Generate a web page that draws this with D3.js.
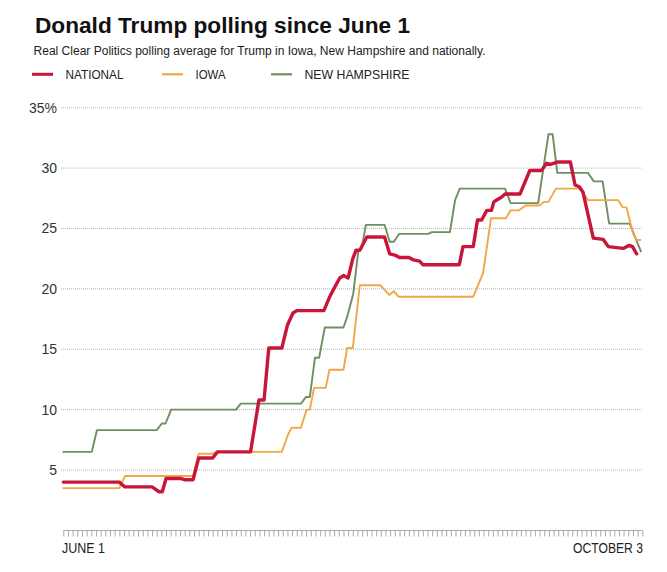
<!DOCTYPE html>
<html>
<head>
<meta charset="utf-8">
<script src="https://cdn.jsdelivr.net/npm/d3@7"></script>
<style>
  body { margin: 0; background: #fff; }
  svg { display: block; }
  text { font-family: "Liberation Sans", Arial, sans-serif; fill: #222; }
</style>
</head>
<body>
<svg width="667" height="572"></svg>
<script>
// day offsets from June 1, with the polling average on that day
const national = [[0,4.0],[12,4.0],[13.2,3.6],[19,3.6],[20.5,3.2],[21.2,3.2],[22,4.3],[25,4.3],[26,4.2],[27.8,4.2],[29,6.0],[32,6.0],[33,6.5],[40.1,6.5],[41.9,10.8],[43,10.8],[44,15.1],[46.8,15.1],[48,17.0],[49.2,18.0],[50,18.2],[55.8,18.2],[57,19.3],[57.8,19.9],[59.2,20.9],[60,21.1],[61,20.9],[62,22.5],[62.7,23.2],[63.5,23.2],[65,24.3],[68.8,24.3],[69.9,22.9],[71,22.8],[72,22.6],[74,22.6],[75,22.4],[76.3,22.3],[77,22.0],[84.8,22.0],[85.6,23.5],[87.8,23.5],[88.7,25.7],[89.6,25.7],[90.7,26.5],[91.7,26.5],[92.2,27.2],[93,27.4],[93.9,27.6],[94.6,27.85],[97.8,27.85],[99.9,29.8],[102.4,29.8],[103.5,30.4],[104.3,30.3],[105.8,30.5],[108.6,30.5],[109.6,28.6],[110.5,28.45],[111.3,28.0],[113.5,24.2],[115.6,24.1],[116.7,23.5],[119.9,23.35],[121.2,23.6],[121.9,23.5],[122.8,22.9]]
const iowa = [[0,3.5],[12,3.5],[13.2,4.5],[27.8,4.5],[29,6.35],[32,6.35],[33,6.5],[46.8,6.5],[48.2,8.0],[48.9,8.5],[50.9,8.5],[52.1,10.0],[52.8,10.0],[53.7,11.8],[56.2,11.8],[57,13.3],[60,13.3],[60.8,15.1],[62,15.1],[63.5,20.3],[67.9,20.3],[69.3,19.7],[69.8,19.5],[70.8,19.8],[71.8,19.35],[87.8,19.35],[89.9,21.3],[91.6,25.85],[94.8,25.85],[95.8,26.5],[97.6,26.5],[99,26.9],[102,26.9],[102.9,27.2],[103.9,27.2],[105.5,28.3],[110.6,28.3],[112.4,27.35],[118.8,27.35],[119.8,26.75],[120.6,26.75],[122,24.6],[122.8,24.05],[123.6,24.05]]
const newHampshire = [[0,6.5],[6.1,6.5],[7.2,8.3],[20,8.3],[21.1,8.85],[21.9,8.85],[23.1,10.0],[37,10.0],[38,10.5],[50.9,10.5],[52,11.05],[52.8,11.05],[53.9,14.3],[54.8,14.3],[56,16.8],[60,16.8],[60.8,17.7],[62.1,19.6],[63.2,23.2],[63.9,23.35],[64.8,25.3],[68.8,25.3],[69.9,23.9],[70.8,23.9],[71.9,24.55],[78.2,24.55],[78.9,24.7],[82.8,24.7],[83.9,27.35],[84.9,28.3],[94.6,28.3],[95.8,27.1],[101.7,27.1],[103.9,32.8],[104.8,32.8],[105.8,29.6],[112.4,29.6],[113.6,28.9],[115.5,28.9],[116.9,25.4],[121.3,25.4],[123.7,23.1]]

const yTicks = [5, 10, 15, 20, 25, 30, 35]
const seriesNames = ['NATIONAL', 'IOWA', 'NEW HAMPSHIRE']
const xLabels = ['JUNE 1', 'OCTOBER 3']

const startDate = new Date(Date.UTC(2015, 5, 1))
const endDate = new Date(Date.UTC(2015, 9, 3))
const toDate = day => new Date(startDate.getTime() + day * 864e5)

const series = [
    {name: seriesNames[0], data: national, color: '#c8153a', width: 3.4},
    {name: seriesNames[1], data: iowa, color: '#f3a645', width: 1.9},
    {name: seriesNames[2], data: newHampshire, color: '#6f8f60', width: 1.9}
]

const svg = d3.select('svg')

const x = d3.scaleUtc().domain([startDate, endDate]).range([63.3, 642.3])
const y = d3.scaleLinear().domain([0, 35]).range([530.4, 107.7])

// the original uses a condensed face, so fit the text to its widths
function fit(sel, w){
    sel.attr('textLength', w).attr('lengthAdjust', 'spacingAndGlyphs')
}

// title + subtitle
svg.append('text').attr('x', 35).attr('y', 33.3)
    .style('font-size', '21.5px').style('font-weight', 'bold').style('fill', '#111')
    .text('Donald Trump polling since June 1').call(fit, 375)
svg.append('text').attr('x', 33.5).attr('y', 55)
    .style('font-size', '12px').style('fill', '#222')
    .text('Real Clear Politics polling average for Trump in Iowa, New Hampshire and nationally.').call(fit, 452)

// legend
const legendX = [32, 162, 271]
const legendW = [58, 30, 105]
const legend = svg.selectAll('.legend').data(series).enter().append('g')
    .attr('class', 'legend')
    .attr('transform', (d, i) => `translate(${legendX[i]}, 74.3)`)
legend.append('line').attr('x1', 0).attr('x2', 21)
    .attr('stroke', d => d.color).attr('stroke-width', (d, i) => i === 0 ? 3 : 2.2)
legend.append('text').attr('x', 33.5).attr('y', 4.3)
    .style('font-size', '13px').style('fill', '#222')
    .attr('textLength', (d, i) => legendW[i]).attr('lengthAdjust', 'spacingAndGlyphs')
    .text(d => d.name)

// gridlines
const grid = svg.append('g')
grid.selectAll('line').data(yTicks).enter().append('line')
    .attr('x1', 61).attr('x2', 643)
    .attr('y1', d => y(d)).attr('y2', d => y(d))
    .attr('stroke', '#b5b5b5').attr('stroke-width', 1).attr('stroke-dasharray', '1,1')
grid.selectAll('text').data(yTicks).enter().append('text')
    .attr('x', 57).attr('y', d => y(d) + 5)
    .attr('text-anchor', 'end')
    .style('font-size', '14px').style('fill', '#333')
    .text(d => d === 35 ? d + '%' : d)

// x axis with a tick for every day
const xAxis = d3.axisBottom(x).ticks(d3.utcDay).tickSize(6).tickFormat('')
const ax = svg.append('g').attr('transform', 'translate(0, 530.5)').call(xAxis)
ax.select('.domain').attr('stroke', '#aaa').attr('d', `M${x(startDate)},0H${x(endDate)}`)
ax.selectAll('.tick line').attr('stroke', '#aaa')

svg.append('text').attr('x', 62).attr('y', 553)
    .style('font-size', '14px').text(xLabels[0]).call(fit, 43)
svg.append('text').attr('x', 573).attr('y', 553)
    .style('font-size', '14px').text(xLabels[1]).call(fit, 70)

// lines
const line = d3.line().x(d => x(toDate(d[0]))).y(d => y(d[1]))
svg.selectAll('.series').data(series.slice().reverse()).enter().append('path')
    .attr('class', 'series')
    .attr('d', d => line(d.data))
    .attr('fill', 'none')
    .attr('stroke', d => d.color)
    .attr('stroke-width', d => d.width)
    .attr('stroke-linejoin', 'round')
    .attr('stroke-linecap', 'round')
</script>
</body>
</html>
